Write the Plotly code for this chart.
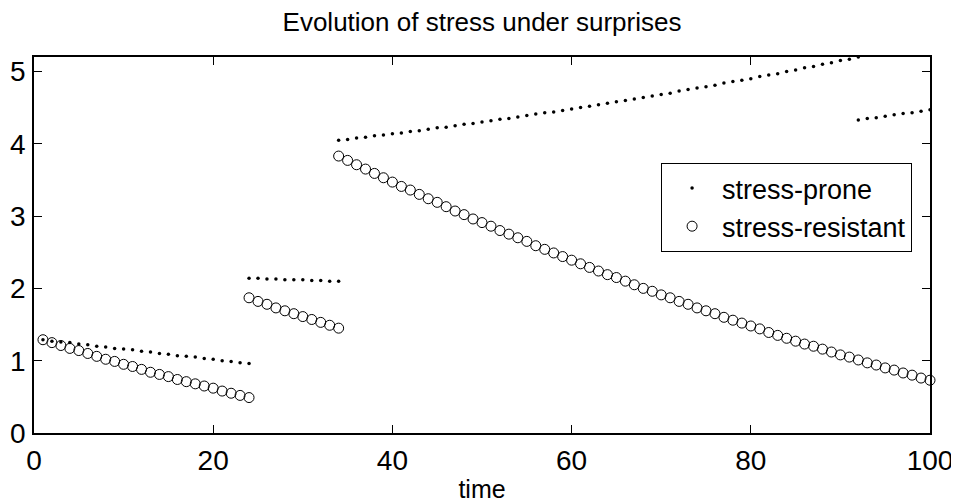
import plotly.graph_objects as go

# ---------------- data ----------------
# stress-prone (dots), four segments separated by "surprises"
prone_time_1 = list(range(1, 25))
prone_vals_1 = [1.29, 1.27, 1.26, 1.25, 1.23, 1.22, 1.20, 1.19, 1.17, 1.16,
                1.15, 1.13, 1.12, 1.10, 1.09, 1.07, 1.06, 1.05, 1.03, 1.02,
                1.00, 0.99, 0.97, 0.96]
prone_time_2 = list(range(24, 35))
prone_vals_2 = [2.14, 2.14, 2.13, 2.13, 2.12, 2.12, 2.12, 2.11, 2.11, 2.10, 2.10]
prone_time_3 = list(range(34, 93))
prone_vals_3 = [4.05, 4.06, 4.08, 4.09, 4.11, 4.12, 4.14, 4.15, 4.17, 4.18,
                4.20, 4.22, 4.23, 4.25, 4.27, 4.28, 4.30, 4.32, 4.34, 4.35,
                4.37, 4.39, 4.41, 4.43, 4.44, 4.46, 4.48, 4.50, 4.52, 4.54,
                4.56, 4.58, 4.60, 4.62, 4.64, 4.66, 4.68, 4.70, 4.73, 4.75,
                4.77, 4.79, 4.81, 4.84, 4.86, 4.88, 4.90, 4.93, 4.95, 4.97,
                5.00, 5.02, 5.05, 5.07, 5.10, 5.12, 5.15, 5.17, 5.20]
prone_time_4 = list(range(92, 101))
prone_vals_4 = [4.33, 4.35, 4.36, 4.38, 4.40, 4.42, 4.43, 4.45, 4.47]

# stress-resistant (open circles), three segments
resist_time_1 = list(range(1, 25))
resist_vals_1 = [1.29, 1.25, 1.21, 1.17, 1.14, 1.10, 1.06, 1.02, 0.99, 0.95,
                 0.92, 0.88, 0.84, 0.81, 0.78, 0.74, 0.71, 0.68, 0.65, 0.62,
                 0.58, 0.55, 0.52, 0.49]
resist_time_2 = list(range(24, 35))
resist_vals_2 = [1.87, 1.82, 1.78, 1.73, 1.69, 1.65, 1.61, 1.57, 1.53, 1.49, 1.45]
resist_time_3 = list(range(34, 101))
resist_vals_3 = [3.83, 3.77, 3.71, 3.65, 3.59, 3.53, 3.47, 3.41, 3.36, 3.30,
                 3.24, 3.19, 3.13, 3.07, 3.02, 2.96, 2.91, 2.86, 2.80, 2.75,
                 2.70, 2.65, 2.59, 2.54, 2.49, 2.44, 2.39, 2.34, 2.29, 2.24,
                 2.19, 2.15, 2.10, 2.05, 2.00, 1.96, 1.91, 1.87, 1.82, 1.78,
                 1.73, 1.69, 1.65, 1.60, 1.56, 1.52, 1.48, 1.44, 1.39, 1.35,
                 1.31, 1.27, 1.23, 1.20, 1.16, 1.12, 1.08, 1.05, 1.01, 0.97,
                 0.94, 0.90, 0.87, 0.83, 0.80, 0.76, 0.73]

x_ticks = [0, 20, 40, 60, 80, 100]
y_ticks = [0, 1, 2, 3, 4, 5]

# ---------------- figure ----------------
prone_t = prone_time_1 + prone_time_2 + prone_time_3 + prone_time_4
prone_v = prone_vals_1 + prone_vals_2 + prone_vals_3 + prone_vals_4
resist_t = resist_time_1 + resist_time_2 + resist_time_3
resist_v = resist_vals_1 + resist_vals_2 + resist_vals_3

FONT = "Liberation Sans, Arial, Helvetica, sans-serif"

# the page body has an 8px default margin, so the figure is 8px smaller
W, H = 951, 495

fig = go.Figure()
fig.add_trace(go.Scatter(
    x=prone_t, y=prone_v, mode="markers", name="stress-prone",
    marker=dict(symbol="circle", size=3.5, color="black"),
))
fig.add_trace(go.Scatter(
    x=resist_t, y=resist_v, mode="markers", name="stress-resistant",
    marker=dict(symbol="circle-open", size=10, color="black", line=dict(width=1)),
    cliponaxis=False,
))

axis_common = dict(
    showline=True, linecolor="black", linewidth=1.5, mirror="ticks",
    ticks="inside", ticklen=8, tickwidth=1, tickcolor="black",
    showgrid=False, zeroline=False, automargin=False,
    tickfont=dict(family=FONT, size=28, color="black"),
)

fig.update_layout(
    width=W, height=H,
    margin=dict(l=26, r=29, t=49, b=70, autoexpand=False),
    paper_bgcolor="white", plot_bgcolor="white",
    font=dict(family=FONT, color="black"),
    title=dict(text="Evolution of stress under surprises",
               x=0.5, xref="paper", y=1 - 14 / H, yref="container",
               xanchor="center", yanchor="middle",
               font=dict(family=FONT, size=26, color="black")),
    xaxis=dict(range=[0, 100], tickvals=x_ticks, ticklabelstandoff=2,
               title=dict(text="time", standoff=6,
                          font=dict(family=FONT, size=25, color="black")),
               **axis_common),
    yaxis=dict(range=[0, 5.2], tickvals=y_ticks, ticklabelstandoff=1,
               **axis_common),
    legend=dict(x=0.98, xanchor="right", y=0.718, yanchor="top",
                bgcolor="white", bordercolor="black", borderwidth=1,
                itemwidth=50,
                font=dict(family=FONT, size=27, color="black")),
    showlegend=True,
)

fig.write_html("out.html")
